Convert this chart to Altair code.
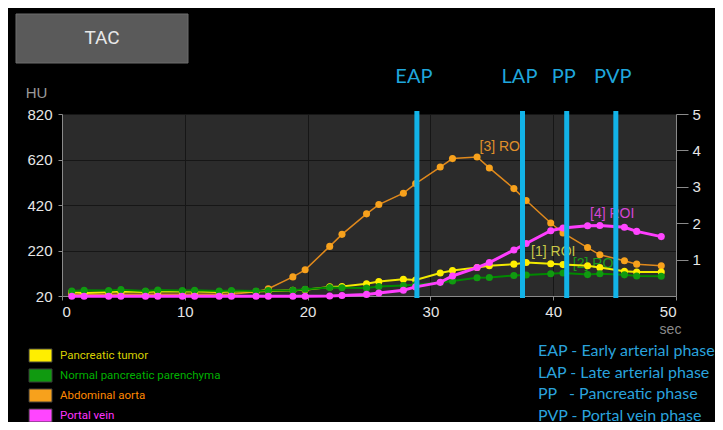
import altair as alt
import pandas as pd

# ---------------- data ----------------
times = [0.8, 1.8, 3.8, 4.8, 6.8, 7.8, 9.8, 10.8, 12.8, 13.8, 15.8, 16.8, 18.8, 19.8,
         21.8, 22.8, 24.8, 25.8, 27.8, 28.8, 30.8, 31.8, 33.8, 34.8, 36.8, 37.8,
         39.8, 40.8, 42.8, 43.8, 45.8, 46.8, 48.8]
tumor = [38, 33, 38, 40, 38, 40, 40, 40, 38, 40, 40, 42, 45, 48, 60, 62, 74, 84, 94, 90,
         121, 132, 145, 153, 160, 167, 162, 158, 153, 145, 129, 125, 125]
normal = [42, 45, 44, 48, 42, 46, 44, 45, 42, 44, 42, 44, 45, 50, 57, 56, 55, 62, 66, 70,
          79, 86, 100, 101, 110, 112, 118, 121, 114, 118, 113, 108, 107]
aorta = [28, 28, 28, 28, 28, 28, 28, 28, 28, 28, 39, 52, 104, 135, 238, 291, 381, 422, 472, 514,
         587, 624, 631, 583, 492, 440, 341, 297, 233, 201, 175, 160, 153]
portal = [19, 19, 19, 19, 19, 19, 19, 19, 19, 19, 19, 19, 19, 19, 20, 22, 27, 33, 45, 60,
          80, 108, 145, 167, 222, 251, 307, 319, 329, 330, 322, 304, 281]

series_names = ["Pancreatic tumor", "Normal pancreatic parenchyma", "Abdominal aorta", "Portal vein"]
series_values = [tumor, normal, aorta, portal]
point_colors = ["#ffee00", "#109a10", "#f7a11c", "#ff45ff"]
line_colors = ["#f2ea00", "#008a00", "#e0891c", "#ff3dff"]
line_widths = [2, 2, 1.5, 3]
legend_label_colors = ["#d8d000", "#00b000", "#ff8800", "#ff33ff"]
draw_order = [2, 0, 1, 3]

phase_names = ["EAP", "LAP", "PP", "PVP"]
phase_times = [28.9, 37.5, 41.1, 45.1]
phase_legend = ["EAP - Early arterial phase", "LAP - Late arterial phase",
                "PP\u00a0\u00a0\u00a0- Pancreatic phase", "PVP - Portal vein phase"]

roi_labels = ["[3] ROI", "[4] ROI", "[1] ROI", "[2] ROI"]
roi_t = [34.0, 43.0, 38.2, 41.6]
roi_hu = [674, 382, 212, 161]
roi_colors = ["#e0902a", "#d545d5", "#c8c848", "#1a9a1a"]

x_ticks = [0, 10, 20, 30, 40, 50]
hu_ticks = [20, 220, 420, 620, 820]
right_ticks = [1, 2, 3, 4, 5]

# ---------------- tables ----------------
rows = []
for name, vals in zip(series_names, series_values):
    for t, v in zip(times, vals):
        rows.append({"series": name, "t": t, "hu": v})
df = pd.DataFrame(rows)
phase_df = pd.DataFrame({"t": phase_times, "phase": phase_names})
roi_df = pd.DataFrame({"t": roi_t, "hu": roi_hu, "label": roi_labels})

NUM_FONT = "Liberation Sans, Arial, sans-serif"
NARROW = "Liberation Sans Narrow, Arial Narrow, Roboto, sans-serif"
HUMAN = "Lato, Open Sans, sans-serif"

x_enc = alt.X("t:Q", scale=alt.Scale(domain=[0, 50], nice=False),
              axis=alt.Axis(values=x_ticks, title="sec", titleColor="#8a8a8a",
                            titleFont=NUM_FONT, titleFontSize=14, titleFontWeight="normal",
                            titleX=608, titleY=26, titleAlign="center", titleBaseline="top",
                            labelColor="#e6e6e6", labelFont=NUM_FONT, labelFontSize=15,
                            labelPadding=4, tickSize=4, tickColor="#8a8a8a",
                            domainColor="#8a8a8a", grid=True, gridColor="#161616",
                            gridWidth=1))
y_enc = alt.Y("hu:Q", scale=alt.Scale(domain=[20, 820], nice=False),
              axis=alt.Axis(values=hu_ticks, title="HU", titleColor="#9a9a9a",
                            titleFont=NUM_FONT, titleFontSize=15, titleFontWeight="normal",
                            titleAngle=0, titleX=-26, titleY=-22, titleAlign="center",
                            titleBaseline="middle",
                            labelColor="#e6e6e6", labelFont=NUM_FONT, labelFontSize=15,
                            labelPadding=6, tickSize=4, tickColor="#8a8a8a",
                            domainColor="#8a8a8a", grid=True, gridColor="#161616",
                            gridWidth=1))
color_scale = alt.Scale(domain=series_names, range=point_colors)

label_color_expr = " : ".join(
    [f"datum.label == '{n}' ? '{c}'" for n, c in zip(series_names[:-1], legend_label_colors[:-1])]
) + f" : '{legend_label_colors[-1]}'"

legend = alt.Legend(orient="none", legendX=-31, legendY=232, title=None, padding=0,
                    symbolType="M-1.3,-0.74H1.3V0.74H-1.3Z", symbolSize=313,
                    symbolStrokeColor="#3a3a3a", symbolStrokeWidth=1,
                    labelFont=NARROW, labelFontSize=11.5, labelOffset=10, labelLimit=400,
                    labelColor={"expr": label_color_expr}, rowPadding=1,
                    symbolOpacity=1)
color_enc = alt.Color("series:N", scale=color_scale, legend=legend)

layers = []
for i in draw_order:
    name = series_names[i]
    sub = df[df["series"] == name]
    line = alt.Chart(sub).mark_line(color=line_colors[i], strokeWidth=line_widths[i]).encode(
        x=x_enc, y=y_enc)
    pts = alt.Chart(sub).mark_circle(size=50, opacity=1).encode(
        x=x_enc, y=y_enc, color=color_enc)
    layers += [line, pts]

roi_text = alt.Chart(roi_df).mark_text(align="left", baseline="middle", font=NUM_FONT,
                                       fontSize=14).encode(
    x=x_enc, y=y_enc, text="label:N",
    fill=alt.Fill("label:N", scale=alt.Scale(domain=roi_labels, range=roi_colors), legend=None))

phase_rules = alt.Chart(phase_df).mark_rule(color="#12b3e8", strokeWidth=5).encode(
    x=x_enc, y=alt.value(-3), y2=alt.value(184))
phase_text = alt.Chart(phase_df).mark_text(color="#1fa6dc", font=HUMAN, fontSize=20,
                                           baseline="middle", dx=-3).encode(
    x=x_enc, y=alt.value(-37), text="phase:N")

tac_box = alt.Chart(pd.DataFrame({"title": ["TAC"]})).mark_rect(
    fill="#5a5a5a", stroke="#6c6c6c", strokeWidth=1).encode(
    x=alt.value(-46), x2=alt.value(126), y=alt.value(-100), y2=alt.value(-51))
tac_text = alt.Chart(pd.DataFrame({"title": ["TAC"]})).mark_text(
    color="#e8e8e8", font=NARROW, fontSize=19, baseline="middle").encode(
    x=alt.value(40), y=alt.value(-76), text="title:N")

phase_info = alt.Chart(pd.DataFrame({"title": ["phases"]})).mark_text(
    text=phase_legend, color="#2aa3dd", font=HUMAN, fontSize=16, align="left",
    baseline="top", lineHeight=21.5).encode(x=alt.value(476), y=alt.value(229))

main = alt.layer(tac_box, tac_text, roi_text, *layers, phase_rules, phase_text, phase_info)

right = alt.Chart(pd.DataFrame({"r": [0, 5]})).mark_rule(opacity=0).encode(
    y=alt.Y("r:Q", scale=alt.Scale(domain=[0, 5], nice=False),
            axis=alt.Axis(orient="right", values=right_ticks, title=None,
                          labelColor="#e6e6e6", labelFont=NUM_FONT, labelFontSize=15,
                          labelPadding=4, tickSize=12, tickColor="#8a8a8a",
                          domainColor="#8a8a8a", grid=False)))

chart = alt.layer(main, right).resolve_scale(y="independent").properties(
    width=614, height=182, background="#000000",
    padding={"left": 54, "top": 106, "right": 39, "bottom": 126},
    autosize=alt.AutoSizeParams(type="none"),
).configure_view(fill="#2b2b2b", stroke=None, clip=False)

chart.save("out.html", embed_options={"renderer": "svg", "actions": False})
